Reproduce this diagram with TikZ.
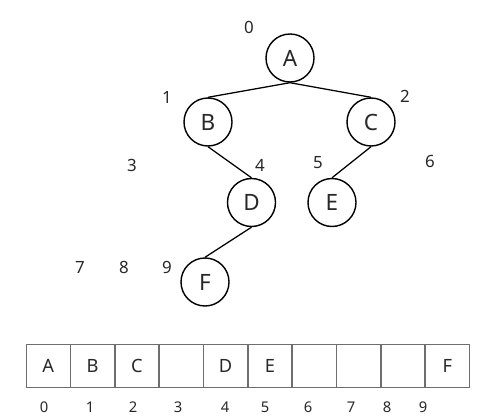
\documentclass[tikz,border=0pt]{standalone}
\usepackage{fontspec}
\setmainfont{Noto Sans}
\usetikzlibrary{positioning}
\definecolor{inkgray}{RGB}{40, 40, 40}
\definecolor{gridgray}{RGB}{110, 110, 110}
\tikzset{
  treenode/.style={draw=black, circle, line width=1pt, minimum size=1.2cm, inner sep=0pt, font=\fontsize{16}{16}\selectfont, text=inkgray},
  treeedge/.style={line width=0.9pt, black},
  idxlabel/.style={font=\fontsize{12}{12}\selectfont, text=inkgray},
  cellbox/.style={draw=gridgray, line width=0.6pt, minimum width=1.0875cm, minimum height=1.075cm, inner sep=0pt, anchor=west, font=\fontsize{13}{13}\selectfont, text=inkgray},
  cellidx/.style={font=\fontsize{10.5}{10.5}\selectfont, text=inkgray}
}
\begin{document}
\begin{tikzpicture}[x=0.025cm, y=-0.025cm]
    \useasboundingbox (0,0) rectangle (481,420);
    % tree
    \node (na) [treenode] at (290,58) {A};
    \node (nb) [treenode] at (208,122) {B};
    \node (nc) [treenode] at (371,122) {C};
    \node (nd) [treenode] at (251.5,202.5) {D};
    \node (ne) [treenode] at (332,202.5) {E};
    \node (nf) [treenode] at (205,282) {F};
    \draw[treeedge] (na.south) -- (nb.north);
    \draw[treeedge] (na.south) -- (nc.north);
    \draw[treeedge] (nb.south) -- (nd.north);
    \draw[treeedge] (nc.south) -- (ne.north);
    \draw[treeedge] (nd.south) -- (nf.north);
    % positions in the tree
    \node (i0) [idxlabel] at (249,27) {0};
    \node (i1) [idxlabel] at (167,97) {1};
    \node (i2) [idxlabel] at (405,96) {2};
    \node (i3) [idxlabel] at (132,165) {3};
    \node (i4) [idxlabel] at (260,165) {4};
    \node (i5) [idxlabel] at (318,163) {5};
    \node (i6) [idxlabel] at (430,161) {6};
    \node (i7) [idxlabel] at (80,267) {7};
    \node (i8) [idxlabel] at (124,267) {8};
    \node (i9) [idxlabel] at (167,267) {9};
    % array
    \node (c0) [cellbox] at (26,365.5) {A};
    \node (c1) [cellbox, right=0pt of c0] {B};
    \node (c2) [cellbox, right=0pt of c1] {C};
    \node (c3) [cellbox, right=0pt of c2] {};
    \node (c4) [cellbox, right=0pt of c3] {D};
    \node (c5) [cellbox, right=0pt of c4] {E};
    \node (c6) [cellbox, right=0pt of c5] {};
    \node (c7) [cellbox, right=0pt of c6] {};
    \node (c8) [cellbox, right=0pt of c7] {};
    \node (c9) [cellbox, right=0pt of c8] {F};
    \node (k0) [cellidx] at (44,407) {0};
    \node (k1) [cellidx] at (90,407) {1};
    \node (k2) [cellidx] at (133,407) {2};
    \node (k3) [cellidx] at (178,407) {3};
    \node (k4) [cellidx] at (225,407) {4};
    \node (k5) [cellidx] at (265,407) {5};
    \node (k6) [cellidx] at (308,407) {6};
    \node (k7) [cellidx] at (351,407) {7};
    \node (k8) [cellidx] at (387,407) {8};
    \node (k9) [cellidx] at (423,407) {9};
\end{tikzpicture}
\end{document}
